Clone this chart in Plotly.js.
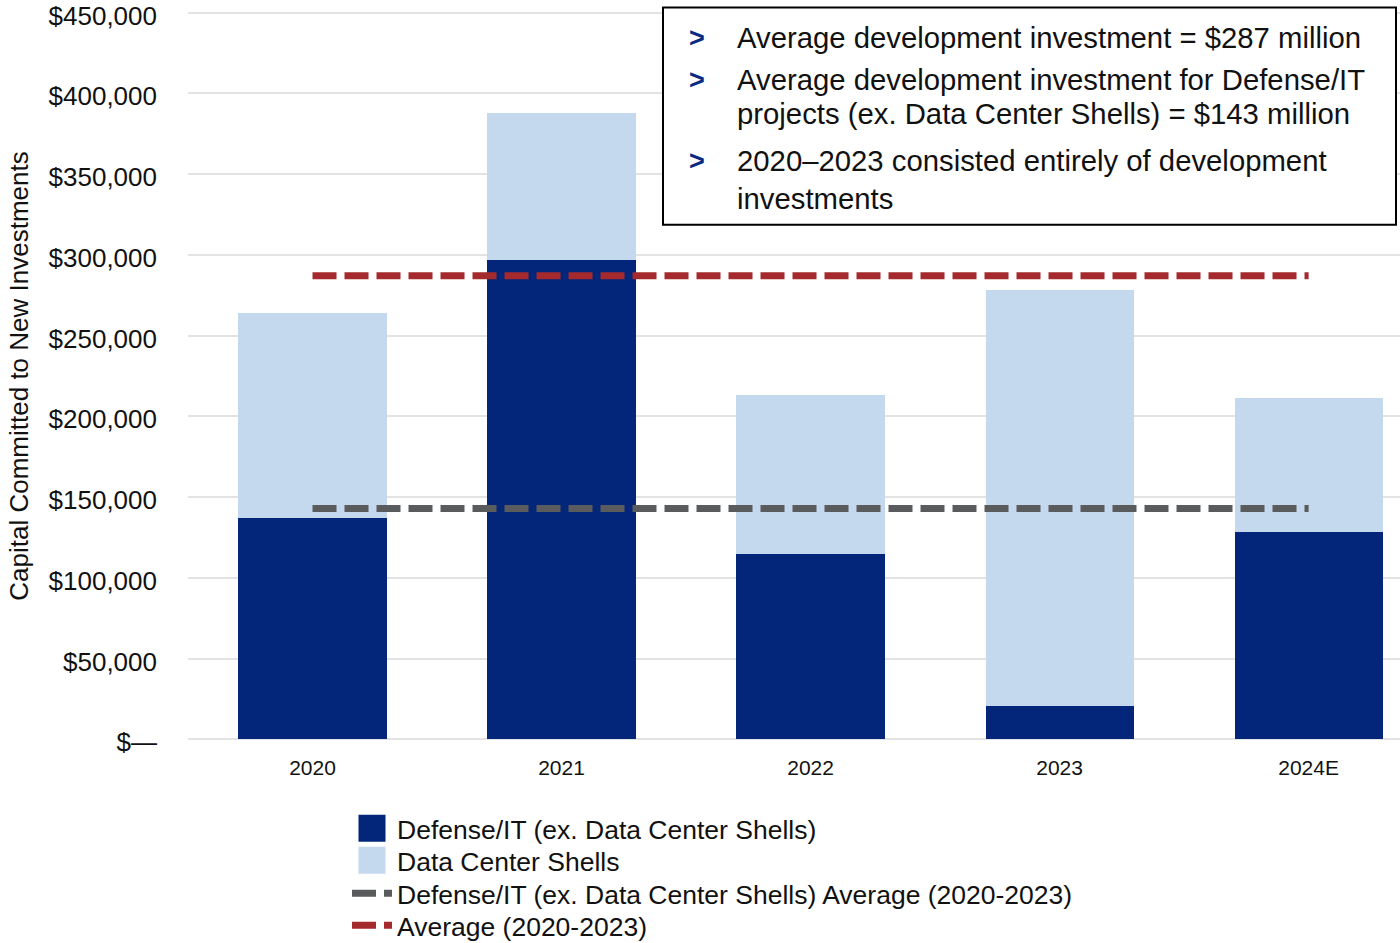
<!DOCTYPE html>
<html>
<head>
<meta charset="utf-8">
<script src="https://cdn.plot.ly/plotly-3.0.1.min.js"></script>
<style>html,body{margin:0;padding:0;background:#fff;}#chart{width:1400px;height:943px;}</style>
</head>
<body>
<div id="chart"></div>
<script>
// ---- data ----
const categories = ['2020', '2021', '2022', '2023', '2024E'];
const defenseIT = [137000, 297000, 115000, 20500, 128500];
const dataCenterShells = [127000, 91000, 98000, 258000, 83000];
const avgCats = ['2020', '2021', '2022', '2023', '2024E'];
const defenseAvg = [143000, 143000, 143000, 143000, 143000];
const overallAvg = [287000, 287000, 287000, 287000, 287000];
const yTickVals = [0, 50000, 100000, 150000, 200000, 250000, 300000, 350000, 400000, 450000];
const yTickText = ['$—', '$50,000', '$100,000', '$150,000', '$200,000', '$250,000', '$300,000', '$350,000', '$400,000', '$450,000'];
const seriesNames = ['Defense/IT (ex. Data Center Shells)', 'Data Center Shells',
  'Defense/IT (ex. Data Center Shells) Average (2020-2023)', 'Average (2020-2023)'];
const bullets = [
  ['Average development investment = $287 million'],
  ['Average development investment for Defense/IT', 'projects (ex. Data Center Shells) = $143 million'],
  ['2020–2023 consisted entirely of development', 'investments']
];

// ---- geometry helpers (pixel -> paper) ----
const W = 1400, H = 943, ML = 188, MR = 0, MT = 11.39, MB = 202.39;
const PW = W - ML - MR, PH = H - MT - MB;
const px = x => (x - ML) / PW;
const py = y => (H - MB - y) / PH;

const FONT = 'Liberation Sans, Arial, Helvetica, sans-serif';
const DARK = '#03257a', LIGHT = '#c4d8ee', RED = '#a52a2d', GRAY = '#595b5c';

const traces = [
  { type: 'bar', name: seriesNames[0], x: categories, y: defenseIT, width: 0.595, legend: 'legend',
    marker: { color: DARK, line: { width: 0 } }, hoverinfo: 'skip' },
  { type: 'bar', name: seriesNames[1], x: categories, y: dataCenterShells, width: 0.595, legend: 'legend2',
    marker: { color: LIGHT, line: { width: 0 } }, hoverinfo: 'skip' },
  { type: 'scatter', mode: 'lines', name: seriesNames[2], x: avgCats, y: defenseAvg, legend: 'legend3',
    line: { color: GRAY, width: 7, dash: '24px,8px' }, hoverinfo: 'skip' },
  { type: 'scatter', mode: 'lines', name: seriesNames[3], x: avgCats, y: overallAvg, legend: 'legend4',
    line: { color: RED, width: 7, dash: '24px,8px' }, hoverinfo: 'skip' }
];

// text box
const annotations = [];
const lineY = [[38], [80, 114], [161, 199]];
bullets.forEach((b, i) => {
  annotations.push({ xref: 'paper', yref: 'paper', x: px(687), y: py(lineY[i][0]),
    xanchor: 'left', yanchor: 'middle', showarrow: false, text: '<b>&gt;</b>',
    font: { family: FONT, size: 27, color: '#0b2a83' } });
  b.forEach((t, j) => {
    annotations.push({ xref: 'paper', yref: 'paper', x: px(735), y: py(lineY[i][j]),
      xanchor: 'left', yanchor: 'middle', showarrow: false, text: t,
      font: { family: FONT, size: 29.3, color: '#111' } });
  });
});

const legendRowY = [828, 860, 893, 925];
function legendAt(yPix) {
  return {
    orientation: 'v', x: px(347), xanchor: 'left', y: py(yPix), yanchor: 'middle',
    font: { family: FONT, size: 26.5, color: '#111' },
    itemwidth: 40, bgcolor: 'rgba(0,0,0,0)', borderwidth: 0
  };
}

const layout = {
  width: W, height: H,
  margin: { l: ML, r: MR, t: MT, b: MB, pad: 0, autoexpand: false },
  paper_bgcolor: '#fff', plot_bgcolor: '#fff',
  barmode: 'stack',
  font: { family: FONT, color: '#111' },
  showlegend: true,
  legend: legendAt(legendRowY[0]),
  legend2: legendAt(legendRowY[1]),
  legend3: legendAt(legendRowY[2]),
  legend4: legendAt(legendRowY[3]),
  xaxis: {
    type: 'category', range: [-0.5, 4.367], showgrid: false, zeroline: false,
    showline: false, ticks: '', tickfont: { family: FONT, size: 21, color: '#111' },
    ticklabelstandoff: 12, fixedrange: true
  },
  yaxis: {
    range: [-1000, 451000], tickmode: 'array', tickvals: yTickVals, ticktext: yTickText,
    showgrid: true, gridcolor: '#e3e3e3', gridwidth: 2, zeroline: false, showline: false,
    ticks: '', tickfont: { family: FONT, size: 26, color: '#111' }, ticklabelstandoff: 30,
    ticklabeloverflow: 'allow', ticklabelshift: 3,
    title: { text: 'Capital Committed to New Investments', font: { family: FONT, size: 26, color: '#111' }, standoff: 12 },
    automargin: false, fixedrange: true
  },
  shapes: [
    { type: 'rect', xref: 'paper', yref: 'paper', x0: px(663), x1: px(1396), y0: py(225), y1: py(8),
      fillcolor: '#fff', line: { color: '#000', width: 2 }, layer: 'above' }
  ],
  annotations: annotations
};

const gd = document.getElementById('chart');
function bigLegendSquares() {
  gd.querySelectorAll('.legendpoints path').forEach(p => {
    const d = (p.getAttribute('d') || '').replace(/\s/g, '');
    if (d === 'M6,6H-6V-6H6Z') p.setAttribute('d', 'M13.5,13.5H-13.5V-13.5H13.5Z');
  });
}
Plotly.newPlot(gd, traces, layout, { staticPlot: true, displayModeBar: false }).then(() => {
  bigLegendSquares();
  gd.on('plotly_afterplot', bigLegendSquares);
  setTimeout(bigLegendSquares, 50);
});
</script>
</body>
</html>
